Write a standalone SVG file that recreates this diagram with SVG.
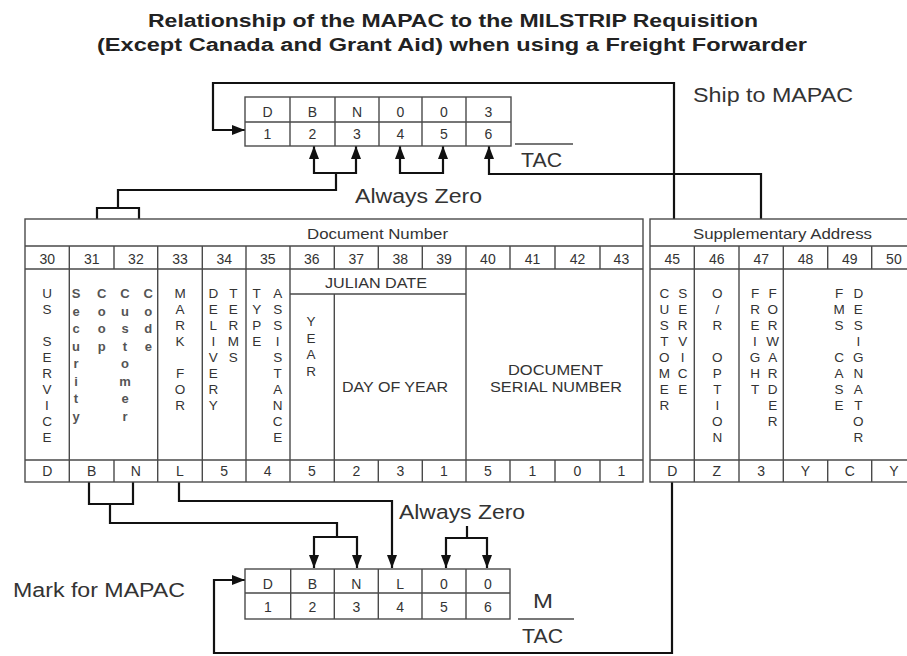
<svg xmlns="http://www.w3.org/2000/svg" width="907" height="656" viewBox="0 0 907 656">
<style>
text{font-family:"Liberation Sans",Arial,Helvetica,sans-serif;fill:#333}
.title{font-size:18px;font-weight:bold;fill:#222}
.num{font-size:14px;text-anchor:middle}
.cell{font-size:14px;text-anchor:middle}
.v{font-size:13.5px;text-anchor:middle}
.vl{font-size:13px;font-weight:bold;text-anchor:middle;fill:#555}
.hdr{font-size:15px}
.hs{font-size:14px}
.lbl{font-size:20px}
.grid{stroke:#4a4a4a;stroke-width:1.4;fill:none}
.conn{stroke:#111;stroke-width:2.2;fill:none}
.end{marker-end:url(#ah)}
.both{marker-end:url(#ah);marker-start:url(#ahs)}
</style>
<defs>
<marker id="ah" markerUnits="userSpaceOnUse" markerWidth="13" markerHeight="10" refX="13" refY="5" orient="auto"><path d="M0,0 L13,5 L0,10 z" fill="#111"/></marker>
<marker id="ahs" markerUnits="userSpaceOnUse" markerWidth="13" markerHeight="10" refX="13" refY="5" orient="auto-start-reverse"><path d="M0,0 L13,5 L0,10 z" fill="#111"/></marker>
</defs>
<rect width="907" height="656" fill="#fff"/>

<g id="title">
<text class="title" x="148" y="27" textLength="610" lengthAdjust="spacingAndGlyphs">Relationship of the MAPAC to the MILSTRIP Requisition</text>
<text class="title" x="97" y="51" textLength="710" lengthAdjust="spacingAndGlyphs">(Except Canada and Grant Aid) when using a Freight Forwarder</text>
</g>

<g id="connectors">
<path class="conn end" d="M674,219 V83 H213 V130 H245"/>
<path class="conn end" d="M761,219 V174 H489 V146"/>
<path class="conn" d="M97,219 V208 H139 V219 M118,208 V190 H336 V173"/>
<path class="conn both" d="M314,146 V173 H356 V146"/>
<path class="conn both" d="M400,146 V173 H443 V146"/>
<path class="conn" d="M89,482 V504 H133 V482 M110,504 V523 H337 V537"/>
<path class="conn both" d="M314,568 V537 H357 V568"/>
<path class="conn end" d="M179,482 V501 H392 V568"/>
<path class="conn both" d="M446,568 V538 H487 V568"/>
<path class="conn" d="M467,538 V526"/>
<path class="conn end" d="M672,482 V653 H214 V580 H245"/>
</g>

<g id="ship-to-box">
<rect class="grid" x="245" y="97" width="266" height="49"/>
<path class="grid" d="M245,122 H511 M290,97 V146 M335,97 V146 M379,97 V146 M422,97 V146 M466,97 V146"/>
<text class="cell" y="117"><tspan x="267.5">D</tspan><tspan x="312.5">B</tspan><tspan x="357">N</tspan><tspan x="400.5">0</tspan><tspan x="444">0</tspan><tspan x="488.5">3</tspan></text>
<text class="cell" y="139"><tspan x="267.5">1</tspan><tspan x="312.5">2</tspan><tspan x="357">3</tspan><tspan x="400.5">4</tspan><tspan x="444">5</tspan><tspan x="488.5">6</tspan></text>
</g>

<g id="ship-to-labels">
<text class="lbl" x="693" y="102" textLength="160" lengthAdjust="spacingAndGlyphs">Ship to MAPAC</text>
<path class="grid" d="M515,144 H573"/>
<text class="lbl" x="521" y="167" textLength="41" lengthAdjust="spacingAndGlyphs">TAC</text>
<text class="lbl" x="355" y="203" textLength="127" lengthAdjust="spacingAndGlyphs">Always Zero</text>
</g>

<g id="document-number-table">
<rect class="grid" x="25" y="219" width="618" height="263"/>
<path class="grid" d="M25,246 H643 M25,269 H643 M25,460 H643 M290,294 H466
M69.3,246 V482 M157.7,246 V482 M202.3,246 V482 M246,246 V482 M290,246 V482 M466,246 V482
M114,246 V269 M114,460 V482 M378.3,246 V269 M378.3,460 V482 M422.3,246 V269 M422.3,460 V482
M510,246 V269 M510,460 V482 M555,246 V269 M555,460 V482 M600,246 V269 M600,460 V482
M334.3,246 V269 M334.3,294 V482"/>
<text class="hdr" x="307" y="239" textLength="141" lengthAdjust="spacingAndGlyphs">Document Number</text>
<text class="num" y="264"><tspan x="47.2">30</tspan><tspan x="91.7">31</tspan><tspan x="135.9">32</tspan><tspan x="180">33</tspan><tspan x="224.2">34</tspan><tspan x="267.7">35</tspan><tspan x="311.8">36</tspan><tspan x="356.3">37</tspan><tspan x="400.3">38</tspan><tspan x="444">39</tspan><tspan x="487.9">40</tspan><tspan x="532.5">41</tspan><tspan x="577.5">42</tspan><tspan x="621.4">43</tspan></text>
<text class="hdr" x="325" y="288" textLength="102" lengthAdjust="spacingAndGlyphs">JULIAN DATE</text>
<text class="hdr" x="342" y="392" textLength="106" lengthAdjust="spacingAndGlyphs">DAY OF YEAR</text>
<text class="hs" x="508" y="375" textLength="95" lengthAdjust="spacingAndGlyphs">DOCUMENT</text>
<text class="hs" x="490" y="392" textLength="132" lengthAdjust="spacingAndGlyphs">SERIAL NUMBER</text>
<text class="v" y="298"><tspan x="47">U</tspan><tspan x="47" dy="16">S</tspan><tspan x="47" dy="32">S</tspan><tspan x="47" dy="16">E</tspan><tspan x="47" dy="16">R</tspan><tspan x="47" dy="16">V</tspan><tspan x="47" dy="16">I</tspan><tspan x="47" dy="16">C</tspan><tspan x="47" dy="16">E</tspan></text>
<text class="vl" y="298"><tspan x="76">S</tspan><tspan x="76" dy="17.5">e</tspan><tspan x="76" dy="17.5">c</tspan><tspan x="76" dy="17.5">u</tspan><tspan x="76" dy="17.5">r</tspan><tspan x="76" dy="17.5">i</tspan><tspan x="76" dy="17.5">t</tspan><tspan x="76" dy="17.5">y</tspan></text>
<text class="vl" y="298"><tspan x="101.7">C</tspan><tspan x="101.7" dy="17.5">o</tspan><tspan x="101.7" dy="17.5">o</tspan><tspan x="101.7" dy="17.5">p</tspan></text>
<text class="vl" y="298"><tspan x="125">C</tspan><tspan x="125" dy="17.5">u</tspan><tspan x="125" dy="17.5">s</tspan><tspan x="125" dy="17.5">t</tspan><tspan x="125" dy="17.5">o</tspan><tspan x="125" dy="17.5">m</tspan><tspan x="125" dy="17.5">e</tspan><tspan x="125" dy="17.5">r</tspan></text>
<text class="vl" y="298"><tspan x="148.3">C</tspan><tspan x="148.3" dy="17.5">o</tspan><tspan x="148.3" dy="17.5">d</tspan><tspan x="148.3" dy="17.5">e</tspan></text>
<text class="v" y="298"><tspan x="180">M</tspan><tspan x="180" dy="16">A</tspan><tspan x="180" dy="16">R</tspan><tspan x="180" dy="16">K</tspan><tspan x="180" dy="32">F</tspan><tspan x="180" dy="16">O</tspan><tspan x="180" dy="16">R</tspan></text>
<text class="v" y="298"><tspan x="213.3">D</tspan><tspan x="213.3" dy="16">E</tspan><tspan x="213.3" dy="16">L</tspan><tspan x="213.3" dy="16">I</tspan><tspan x="213.3" dy="16">V</tspan><tspan x="213.3" dy="16">E</tspan><tspan x="213.3" dy="16">R</tspan><tspan x="213.3" dy="16">Y</tspan></text>
<text class="v" y="298"><tspan x="233.3">T</tspan><tspan x="233.3" dy="16">E</tspan><tspan x="233.3" dy="16">R</tspan><tspan x="233.3" dy="16">M</tspan><tspan x="233.3" dy="16">S</tspan></text>
<text class="v" y="298"><tspan x="256.7">T</tspan><tspan x="256.7" dy="16">Y</tspan><tspan x="256.7" dy="16">P</tspan><tspan x="256.7" dy="16">E</tspan></text>
<text class="v" y="298"><tspan x="277.7">A</tspan><tspan x="277.7" dy="16">S</tspan><tspan x="277.7" dy="16">S</tspan><tspan x="277.7" dy="16">I</tspan><tspan x="277.7" dy="16">S</tspan><tspan x="277.7" dy="16">T</tspan><tspan x="277.7" dy="16">A</tspan><tspan x="277.7" dy="16">N</tspan><tspan x="277.7" dy="16">C</tspan><tspan x="277.7" dy="16">E</tspan></text>
<text class="v" y="326"><tspan x="311">Y</tspan><tspan x="311" dy="16.5">E</tspan><tspan x="311" dy="16.5">A</tspan><tspan x="311" dy="16.5">R</tspan></text>
<text class="cell" y="476"><tspan x="47.2">D</tspan><tspan x="91.7">B</tspan><tspan x="135.9">N</tspan><tspan x="180">L</tspan><tspan x="224.2">5</tspan><tspan x="267.7">4</tspan><tspan x="311.8">5</tspan><tspan x="356.3">2</tspan><tspan x="400.3">3</tspan><tspan x="444">1</tspan><tspan x="487.9">5</tspan><tspan x="532.5">1</tspan><tspan x="577.5">0</tspan><tspan x="621.4">1</tspan></text>
</g>

<g id="supplementary-address-table">
<rect class="grid" x="650" y="219" width="266" height="263"/>
<path class="grid" d="M650,246 H916 M650,269 H916 M650,460 H916
M694.3,246 V482 M739,246 V482 M783.3,246 V482
M827.7,246 V269 M827.7,460 V482 M871.7,246 V269 M871.7,460 V482"/>
<text class="hdr" x="693" y="239" textLength="179" lengthAdjust="spacingAndGlyphs">Supplementary Address</text>
<text class="num" y="264"><tspan x="672.2">45</tspan><tspan x="716.7">46</tspan><tspan x="761.2">47</tspan><tspan x="805.5">48</tspan><tspan x="849.7">49</tspan><tspan x="893.9">50</tspan></text>
<text class="v" y="298"><tspan x="664.3">C</tspan><tspan x="664.3" dy="16">U</tspan><tspan x="664.3" dy="16">S</tspan><tspan x="664.3" dy="16">T</tspan><tspan x="664.3" dy="16">O</tspan><tspan x="664.3" dy="16">M</tspan><tspan x="664.3" dy="16">E</tspan><tspan x="664.3" dy="16">R</tspan></text>
<text class="v" y="298"><tspan x="682.7">S</tspan><tspan x="682.7" dy="16">E</tspan><tspan x="682.7" dy="16">R</tspan><tspan x="682.7" dy="16">V</tspan><tspan x="682.7" dy="16">I</tspan><tspan x="682.7" dy="16">C</tspan><tspan x="682.7" dy="16">E</tspan></text>
<text class="v" y="298"><tspan x="717.3">O</tspan><tspan x="717.3" dy="16">/</tspan><tspan x="717.3" dy="16">R</tspan><tspan x="717.3" dy="32">O</tspan><tspan x="717.3" dy="16">P</tspan><tspan x="717.3" dy="16">T</tspan><tspan x="717.3" dy="16">I</tspan><tspan x="717.3" dy="16">O</tspan><tspan x="717.3" dy="16">N</tspan></text>
<text class="v" y="298"><tspan x="755">F</tspan><tspan x="755" dy="16">R</tspan><tspan x="755" dy="16">E</tspan><tspan x="755" dy="16">I</tspan><tspan x="755" dy="16">G</tspan><tspan x="755" dy="16">H</tspan><tspan x="755" dy="16">T</tspan></text>
<text class="v" y="298"><tspan x="772.7">F</tspan><tspan x="772.7" dy="16">O</tspan><tspan x="772.7" dy="16">R</tspan><tspan x="772.7" dy="16">W</tspan><tspan x="772.7" dy="16">A</tspan><tspan x="772.7" dy="16">R</tspan><tspan x="772.7" dy="16">D</tspan><tspan x="772.7" dy="16">E</tspan><tspan x="772.7" dy="16">R</tspan></text>
<text class="v" y="298"><tspan x="839">F</tspan><tspan x="839" dy="16">M</tspan><tspan x="839" dy="16">S</tspan><tspan x="839" dy="32">C</tspan><tspan x="839" dy="16">A</tspan><tspan x="839" dy="16">S</tspan><tspan x="839" dy="16">E</tspan></text>
<text class="v" y="298"><tspan x="858.3">D</tspan><tspan x="858.3" dy="16">E</tspan><tspan x="858.3" dy="16">S</tspan><tspan x="858.3" dy="16">I</tspan><tspan x="858.3" dy="16">G</tspan><tspan x="858.3" dy="16">N</tspan><tspan x="858.3" dy="16">A</tspan><tspan x="858.3" dy="16">T</tspan><tspan x="858.3" dy="16">O</tspan><tspan x="858.3" dy="16">R</tspan></text>
<text class="cell" y="476"><tspan x="672.2">D</tspan><tspan x="716.7">Z</tspan><tspan x="761.2">3</tspan><tspan x="805.5">Y</tspan><tspan x="849.7">C</tspan><tspan x="893.9">Y</tspan></text>
</g>

<g id="mark-for-box">
<rect class="grid" x="245" y="569" width="265" height="50"/>
<path class="grid" d="M245,593 H510 M290.7,569 V619 M334.3,569 V619 M378.3,569 V619 M422,569 V619 M466,569 V619"/>
<text class="cell" y="589"><tspan x="267.8">D</tspan><tspan x="312.5">B</tspan><tspan x="356.3">N</tspan><tspan x="400.2">L</tspan><tspan x="444">0</tspan><tspan x="488">0</tspan></text>
<text class="cell" y="612"><tspan x="267.8">1</tspan><tspan x="312.5">2</tspan><tspan x="356.3">3</tspan><tspan x="400.2">4</tspan><tspan x="444">5</tspan><tspan x="488">6</tspan></text>
</g>

<g id="mark-for-labels">
<text class="lbl" x="13" y="597" textLength="172" lengthAdjust="spacingAndGlyphs">Mark for MAPAC</text>
<text class="lbl" x="399" y="519" textLength="126" lengthAdjust="spacingAndGlyphs">Always Zero</text>
<text class="lbl" x="533" y="608" textLength="20" lengthAdjust="spacingAndGlyphs">M</text>
<path class="grid" d="M518,619 H574"/>
<text class="lbl" x="522" y="643" textLength="41" lengthAdjust="spacingAndGlyphs">TAC</text>
</g>
</svg>
